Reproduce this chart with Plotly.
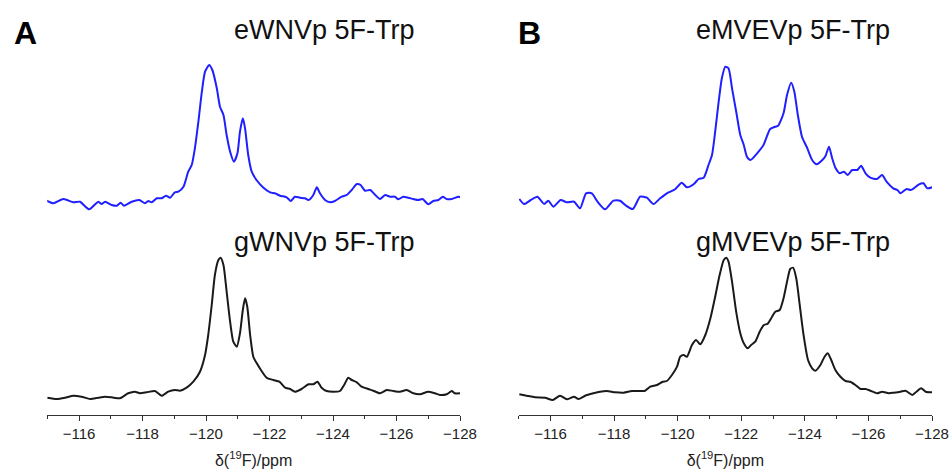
import plotly.graph_objects as go

# ---------------- data ----------------
# Panel A, eWNVp 5F-Trp (blue, top)
ewnv_ppm = [
    -114.98, -115.19, -115.51, -115.82, -116.03, -116.32, -116.61, -116.71, -116.82, -117.03,
    -117.19, -117.31, -117.42, -117.66, -117.90, -118.08, -118.18, -118.29, -118.45, -118.60,
    -118.74, -118.87, -119.02, -119.13, -119.29, -119.44, -119.55, -119.65, -119.76, -119.87,
    -119.97, -120.10, -120.20, -120.34, -120.44, -120.55, -120.65, -120.76, -120.88, -120.99,
    -121.07, -121.16, -121.23, -121.33, -121.44, -121.59, -121.81, -122.02, -122.17, -122.33,
    -122.54, -122.67, -122.80, -122.96, -123.12, -123.23, -123.38, -123.49, -123.59, -123.75,
    -123.91, -124.06, -124.27, -124.43, -124.59, -124.75, -124.87, -125.01, -125.17, -125.33,
    -125.48, -125.64, -125.80, -125.95, -126.06, -126.21, -126.37, -126.53, -126.69, -126.82,
    -127.00, -127.16, -127.32, -127.46, -127.58, -127.74, -127.95, -128.02]
ewnv_int = [
    4.3, 1.7, 6.0, 2.7, 3.3, -4.3, 3.3, 1.0, 3.3, 0.0,
    -0.7, 2.3, -0.7, 3.3, 5.0, 1.7, 4.0, 2.7, 6.7, 6.7,
    9.3, 7.3, 12.7, 13.3, 18.3, 33.3, 40.0, 56.7, 83.3, 113.3,
    133.3, 140.0, 135.0, 116.7, 98.3, 90.0, 70.0, 53.3, 43.3, 51.7,
    73.3, 86.7, 76.7, 50.0, 33.3, 25.0, 17.3, 12.7, 11.7, 9.3,
    7.7, 4.0, 8.3, 7.3, 6.7, 5.0, 10.0, 17.7, 11.7, 5.0,
    2.7, 4.0, 8.3, 10.0, 15.0, 21.0, 20.0, 14.3, 15.0, 10.0,
    6.0, 10.0, 8.3, 8.3, 5.7, 8.3, 7.3, 6.0, 5.0, 6.0,
    0.7, 4.0, 5.0, 8.3, 6.0, 6.0, 8.3, 7.7]

# Panel A, gWNVp 5F-Trp (black, bottom)
gwnv_ppm = [
    -115.00, -115.30, -115.56, -115.82, -116.08, -116.35, -116.61, -116.82, -117.03, -117.29,
    -117.55, -117.76, -117.92, -118.13, -118.39, -118.60, -118.81, -119.02, -119.18, -119.39,
    -119.60, -119.81, -119.97, -120.07, -120.18, -120.28, -120.39, -120.46, -120.55, -120.65,
    -120.76, -120.86, -120.97, -121.07, -121.16, -121.23, -121.30, -121.39, -121.49, -121.60,
    -121.75, -121.91, -122.12, -122.31, -122.49, -122.65, -122.80, -123.01, -123.23, -123.38,
    -123.51, -123.64, -123.80, -124.01, -124.22, -124.35, -124.48, -124.59, -124.75, -124.90,
    -125.11, -125.27, -125.48, -125.69, -125.90, -126.11, -126.32, -126.53, -126.74, -127.00,
    -127.21, -127.37, -127.58, -127.74, -127.84, -128.02]
gwnv_int = [
    -2.7, -4.0, -2.7, -0.7, -1.7, -4.0, -2.7, -1.7, -2.3, -3.3,
    1.7, 3.3, 1.7, 2.7, 4.0, -0.7, 3.3, 5.0, 4.3, 7.3,
    13.3, 23.3, 40.0, 60.0, 90.0, 120.0, 135.0, 137.3, 130.0, 103.3,
    73.3, 53.3, 48.3, 61.7, 85.0, 96.7, 88.3, 60.0, 38.3, 31.7,
    24.0, 17.3, 15.0, 13.3, 7.3, 6.0, 3.3, 6.0, 10.7, 10.7,
    13.3, 7.3, 4.0, 3.3, 4.0, 10.0, 17.3, 15.0, 12.7, 8.3,
    6.0, 4.3, 1.7, 5.0, 4.0, 3.3, 5.0, 1.7, 0.7, 3.3,
    1.7, 0.0, 0.7, 4.0, 1.7, 1.7]

# Panel B, eMVEVp 5F-Trp (blue, top)
emvev_ppm = [
    -115.02, -115.17, -115.38, -115.59, -115.80, -115.93, -116.09, -116.32, -116.51, -116.74,
    -116.93, -117.12, -117.30, -117.48, -117.72, -117.98, -118.19, -118.35, -118.59, -118.82,
    -119.03, -119.24, -119.45, -119.66, -119.92, -120.13, -120.29, -120.50, -120.66, -120.82,
    -120.97, -121.08, -121.18, -121.29, -121.39, -121.50, -121.60, -121.71, -121.85, -121.97,
    -122.08, -122.18, -122.29, -122.50, -122.70, -122.91, -123.07, -123.16, -123.33, -123.44,
    -123.57, -123.67, -123.78, -123.91, -124.07, -124.23, -124.37, -124.55, -124.65, -124.76,
    -124.86, -124.97, -125.10, -125.23, -125.35, -125.49, -125.65, -125.77, -125.91, -126.06,
    -126.27, -126.43, -126.57, -126.78, -126.91, -127.01, -127.20, -127.33, -127.43, -127.59,
    -127.73, -127.85, -128.01]
emvev_int = [
    6.0, 1.0, 5.0, 8.3, 1.0, 4.3, -1.7, 5.0, 2.7, 3.3,
    -3.3, 11.7, 11.7, 3.3, -4.3, 4.3, 4.3, 0.0, -4.0, 8.3,
    7.3, 1.0, 6.7, 11.7, 15.7, 22.3, 17.7, 20.7, 26.0, 27.3,
    40.0, 50.0, 73.3, 103.3, 126.7, 138.3, 136.7, 116.7, 91.7, 70.0,
    60.0, 48.3, 45.0, 51.7, 60.0, 76.0, 78.3, 79.3, 91.7, 110.0,
    122.3, 113.3, 90.0, 68.3, 57.3, 45.0, 40.7, 45.0, 49.0, 58.3,
    46.7, 36.7, 31.7, 33.3, 30.0, 35.0, 35.0, 39.3, 31.7, 27.3,
    26.0, 30.0, 23.3, 16.7, 15.0, 11.7, 16.0, 15.0, 16.7, 20.7,
    21.7, 16.7, 17.7]

# Panel B, gMVEVp 5F-Trp (black, bottom)
gmvev_ppm = [
    -115.02, -115.25, -115.51, -115.83, -116.07, -116.30, -116.53, -116.74, -116.88, -117.09,
    -117.35, -117.56, -117.77, -118.03, -118.30, -118.56, -118.82, -118.98, -119.14, -119.35,
    -119.53, -119.66, -119.82, -119.98, -120.08, -120.19, -120.29, -120.45, -120.58, -120.71,
    -120.87, -121.03, -121.18, -121.32, -121.45, -121.53, -121.60, -121.71, -121.84, -121.97,
    -122.08, -122.20, -122.31, -122.44, -122.58, -122.71, -122.83, -122.97, -123.07, -123.21,
    -123.33, -123.44, -123.54, -123.63, -123.73, -123.84, -123.96, -124.10, -124.23, -124.33,
    -124.49, -124.62, -124.72, -124.83, -124.96, -125.12, -125.28, -125.43, -125.59, -125.75,
    -125.91, -126.06, -126.27, -126.43, -126.64, -126.80, -127.01, -127.17, -127.38, -127.51,
    -127.66, -127.80, -128.01]
gmvev_int = [
    0.7, -0.7, -2.3, -2.7, -5.0, -0.7, -4.3, -1.7, -4.0, -0.7,
    1.7, 3.3, 4.0, 2.7, 2.3, 4.0, 4.0, 4.3, 8.3, 10.0,
    13.3, 14.0, 20.0, 28.3, 38.3, 40.0, 38.3, 50.0, 55.0, 50.7,
    60.0, 76.7, 98.3, 120.0, 135.0, 137.3, 133.3, 113.3, 83.3, 61.7,
    51.7, 46.7, 50.0, 53.3, 63.3, 70.0, 71.3, 78.3, 83.3, 85.0,
    96.7, 113.3, 126.0, 127.3, 116.7, 90.0, 60.0, 35.0, 26.7, 24.3,
    30.0, 38.3, 41.7, 35.0, 25.0, 18.3, 14.0, 13.3, 10.0, 6.0,
    6.0, 4.3, 1.7, 3.3, 1.7, 2.3, 3.3, 4.3, 0.0, 3.3,
    6.7, 3.3, 2.7]

titles_top = ["eWNVp 5F-Trp", "eMVEVp 5F-Trp"]
titles_bottom = ["gWNVp 5F-Trp", "gMVEVp 5F-Trp"]
panel_labels = ["A", "B"]
tick_values = [-116, -118, -120, -122, -124, -126, -128]
x_range = [-115, -128]

# ---------------- layout helpers ----------------
# The page body margin is removed (post_script below), so the figure fills the window.
W, H = 950, 473
BLUE = "#1f1fff"
BLACK = "#1a1a1a"
FONT = "Liberation Sans, Arial, sans-serif"


def px_x(p):
    return p / W


def px_y(p):
    return 1 - p / H


dom_A = [px_x(47.25), px_x(460)]
dom_B = [px_x(518.7), px_x(932)]
dom_bottom = [px_y(415), px_y(240)]
dom_top = [px_y(215), px_y(50)]

fig = go.Figure()

line_kw = dict(shape="spline", smoothing=0.6, width=2)
fig.add_trace(go.Scatter(x=ewnv_ppm, y=ewnv_int, mode="lines", xaxis="x3", yaxis="y3",
                         line=dict(color=BLUE, **line_kw), name=titles_top[0]))
fig.add_trace(go.Scatter(x=gwnv_ppm, y=gwnv_int, mode="lines", xaxis="x", yaxis="y",
                         line=dict(color=BLACK, **line_kw), name=titles_bottom[0]))
fig.add_trace(go.Scatter(x=emvev_ppm, y=emvev_int, mode="lines", xaxis="x4", yaxis="y4",
                         line=dict(color=BLUE, **line_kw), name=titles_top[1]))
fig.add_trace(go.Scatter(x=gmvev_ppm, y=gmvev_int, mode="lines", xaxis="x2", yaxis="y2",
                         line=dict(color=BLACK, **line_kw), name=titles_bottom[1]))

xaxis_visible = dict(
    range=x_range, showgrid=False, zeroline=False, showline=True, linecolor="#333333",
    linewidth=1, ticks="outside", ticklen=5, tickwidth=1, tickcolor="#333333",
    tickvals=tick_values, tickfont=dict(family=FONT, size=15, color="#222222"),
    ticklabeloverflow="allow",
    minor=dict(dtick=1, tick0=-115, ticks="outside", ticklen=3, tickwidth=1, tickcolor="#333333",
               showgrid=False),
    title=dict(text="δ(<sup>19</sup>F)/ppm", font=dict(family=FONT, size=16, color="#222222"),
               standoff=13),
    automargin=False, fixedrange=True,
)
xaxis_hidden = dict(range=x_range, visible=False, showgrid=False, zeroline=False, fixedrange=True)
yaxis_hidden = dict(visible=False, showgrid=False, zeroline=False, fixedrange=True)

fig.update_layout(
    width=W, height=H,
    margin=dict(l=0, r=0, t=0, b=0),
    paper_bgcolor="white", plot_bgcolor="white",
    showlegend=False,
    xaxis=dict(domain=dom_A, anchor="y", **xaxis_visible),
    yaxis=dict(domain=dom_bottom, anchor="x", range=[-20, 155], **yaxis_hidden),
    xaxis2=dict(domain=dom_B, anchor="y2", **xaxis_visible),
    yaxis2=dict(domain=dom_bottom, anchor="x2", range=[-20, 155], **yaxis_hidden),
    xaxis3=dict(domain=dom_A, anchor="y3", **xaxis_hidden),
    yaxis3=dict(domain=dom_top, anchor="x3", range=[-10, 155], **yaxis_hidden),
    xaxis4=dict(domain=dom_B, anchor="y4", **xaxis_hidden),
    yaxis4=dict(domain=dom_top, anchor="x4", range=[-10, 155], **yaxis_hidden),
)

annos = []
title_font = dict(family=FONT, size=27, color="#111111")
for cx, ttop, tbot in [(324, titles_top[0], titles_bottom[0]), (793, titles_top[1], titles_bottom[1])]:
    annos.append(dict(text=ttop, x=px_x(cx), y=px_y(30), xref="paper", yref="paper",
                      xanchor="center", yanchor="middle", showarrow=False, font=title_font))
    annos.append(dict(text=tbot, x=px_x(cx), y=px_y(242), xref="paper", yref="paper",
                      xanchor="center", yanchor="middle", showarrow=False, font=title_font))
for lx, lab in [(25, panel_labels[0]), (529, panel_labels[1])]:
    annos.append(dict(text="<b>" + lab + "</b>", x=px_x(lx), y=px_y(33), xref="paper", yref="paper",
                      xanchor="center", yanchor="middle", showarrow=False,
                      font=dict(family=FONT, size=32, color="#000000")))
fig.update_layout(annotations=annos)

fig.write_html(
    "out.html",
    config={"displayModeBar": False, "staticPlot": True},
    post_script="document.body.style.margin='0';document.body.style.overflow='hidden';",
)
